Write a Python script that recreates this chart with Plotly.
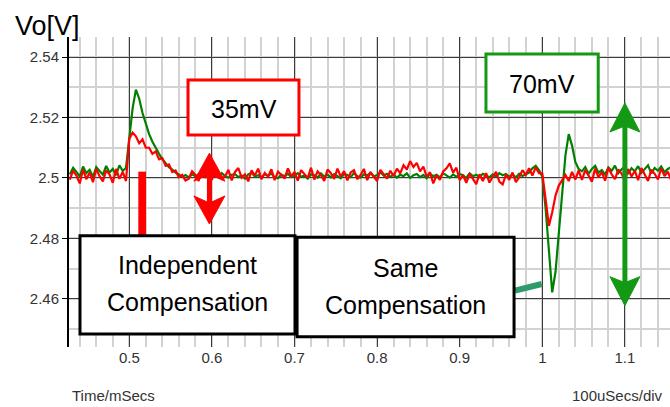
import plotly.graph_objects as go

# ---------------- data ----------------
time_start_ms = 0.428
sample_step_ms = 0.004

# Same compensation (green)
green_v = [
    2.5012, 2.5034, 2.5020, 2.5005, 2.5038, 2.5016, 2.5027, 2.5004, 2.5036, 2.5022,
    2.5011, 2.5040, 2.5018, 2.5030, 2.5009, 2.5042, 2.5024, 2.5033,
    2.5130, 2.5230, 2.5292, 2.5262, 2.5215, 2.5178, 2.5145, 2.5120, 2.5098, 2.5080,
    2.5062, 2.5050, 2.5036, 2.5028, 2.5018, 2.5012, 2.5004, 2.5010, 2.5002, 2.5012,
    2.5006,
    2.5012, 2.5004, 2.5009, 2.4999, 2.5014, 2.5010, 2.5002, 2.5016, 2.5006, 2.5001,
    2.5011, 2.5013, 2.5003, 2.5008, 2.4998, 2.5012, 2.5017, 2.5005, 2.5009, 2.5000,
    2.5013, 2.5007, 2.5015, 2.5002, 2.4999, 2.5011, 2.5006, 2.5014, 2.5003, 2.5010,
    2.5016, 2.5004, 2.5008, 2.4998, 2.5012, 2.5009, 2.5001, 2.5015, 2.5005, 2.5011,
    2.5002, 2.5013, 2.5007, 2.4999, 2.5014, 2.5010, 2.5003, 2.5016, 2.5006, 2.5001,
    2.5012, 2.5008, 2.5017, 2.5005, 2.5010, 2.5019, 2.5008, 2.5014, 2.5004, 2.5012,
    2.5001, 2.5011, 2.5006, 2.5015, 2.5000, 2.5009, 2.5013, 2.5003, 2.5010, 2.4999,
    2.5014, 2.5006, 2.5011, 2.5002, 2.5016, 2.5007, 2.5001, 2.5012, 2.5004, 2.5013,
    2.5009, 2.5000, 2.5015, 2.5006, 2.5011, 2.5003, 2.5014, 2.5008, 2.5002, 2.5012,
    2.5005, 2.5016, 2.5009, 2.5013, 2.5004, 2.5011, 2.5002, 2.5014, 2.5007, 2.5012,
    2.5018, 2.5032, 2.5040, 2.5026,
    2.5005, 2.4900, 2.4770, 2.4622, 2.4690, 2.4810, 2.4940, 2.5075, 2.5145, 2.5107,
    2.5053, 2.5030,
    2.5022, 2.5036, 2.5014, 2.5030, 2.5040, 2.5018, 2.5026, 2.5011, 2.5035, 2.5024,
    2.5041, 2.5016, 2.5029, 2.5037, 2.5013, 2.5032, 2.5022, 2.5039, 2.5017, 2.5028,
    2.5042, 2.5015, 2.5033, 2.5024, 2.5038, 2.5019, 2.5030, 2.5036,
]

# Independent compensation (red)
red_v = [
    2.4995, 2.5024, 2.5008, 2.4982, 2.5028, 2.4996, 2.5018, 2.4986, 2.5030, 2.5006,
    2.4989, 2.5025, 2.5012, 2.4984, 2.5030, 2.4997, 2.5020, 2.4990,
    2.5130, 2.5150, 2.5138, 2.5115, 2.5128, 2.5100, 2.5100, 2.5080, 2.5088, 2.5062,
    2.5066, 2.5040, 2.5045, 2.5020, 2.5025, 2.5002, 2.5010, 2.4992,
    2.4998, 2.5022, 2.5010, 2.4990, 2.5028, 2.5003, 2.5015, 2.4994, 2.5030, 2.5018,
    2.4997, 2.5006, 2.5027, 2.4992, 2.5020, 2.5033, 2.5001, 2.5012, 2.4989, 2.5025,
    2.5008, 2.5031, 2.4996, 2.5017, 2.5004, 2.5029, 2.4993, 2.5021, 2.5011, 2.4998,
    2.5032, 2.5006, 2.5019, 2.4991, 2.5026, 2.5014, 2.5000, 2.5034, 2.4995, 2.5022,
    2.5009, 2.4990, 2.5028, 2.5016, 2.4997, 2.5031, 2.5004, 2.5023, 2.4992, 2.5018,
    2.5026, 2.4996, 2.5010, 2.5030, 2.4993, 2.5019, 2.5005, 2.4990, 2.5027, 2.5012,
    2.4998, 2.5024, 2.5006, 2.5031, 2.5015, 2.5042, 2.5028, 2.5056, 2.5036, 2.5050,
    2.5022, 2.5038, 2.5004, 2.5019, 2.4982, 2.5008, 2.4994, 2.5022, 2.5032, 2.5048,
    2.5018, 2.5034, 2.4993, 2.5010, 2.4984, 2.5014, 2.4998, 2.4980, 2.5012, 2.4990,
    2.5016, 2.4985, 2.5004, 2.5020, 2.4988, 2.4979, 2.5011, 2.4994, 2.5018, 2.4986,
    2.5003, 2.5026, 2.5010, 2.5032, 2.5008, 2.5035, 2.5016,
    2.5015, 2.4930, 2.4842, 2.4887, 2.4942, 2.4975, 2.4995, 2.5010, 2.4990, 2.5020,
    2.4995, 2.5025,
    2.4994, 2.5026, 2.5008, 2.4988, 2.5031, 2.5002, 2.5020, 2.4991, 2.5034, 2.5012,
    2.4996, 2.5028, 2.5015, 2.4989, 2.5030, 2.5005, 2.5024, 2.4993, 2.5033, 2.5010,
    2.4990, 2.5027, 2.5014, 2.4995, 2.5032, 2.5006, 2.5021, 2.4992,
]

time_ms = [round(time_start_ms + i * sample_step_ms, 4) for i in range(len(green_v))]

x_tick_vals = [0.5, 0.6, 0.7, 0.8, 0.9, 1.0, 1.1]
x_tick_text = ["0.5", "0.6", "0.7", "0.8", "0.9", "1", "1.1"]
y_tick_vals = [2.46, 2.48, 2.50, 2.52, 2.54]
y_tick_text = ["2.46", "2.48", "2.5", "2.52", "2.54"]

# ---------------- geometry / style ----------------
W, H = 670, 407
ML, MR, MT, MB = 69, 0, 37, 60
x_range = [0.4270, 1.1546]
y_range = [2.44413, 2.54661]
kx = (W - ML - MR) / (x_range[1] - x_range[0])   # px per ms
ky = (H - MT - MB) / (y_range[1] - y_range[0])   # px per V

RED = "#ff0000"
GREEN_TRACE = "#008000"
GREEN_MARK = "#149914"
TEAL = "#2f9a6a"
TICK_FONT = "Liberation Sans Narrow, Arial Narrow, Liberation Sans, Arial, sans-serif"
TEXT_FONT = "Liberation Sans, Arial, sans-serif"

fig = go.Figure()
fig.add_trace(go.Scatter(x=time_ms, y=green_v, mode="lines",
                         line=dict(color=GREEN_TRACE, width=2.2), name="Same", showlegend=False))
fig.add_trace(go.Scatter(x=time_ms, y=red_v, mode="lines",
                         line=dict(color=RED, width=2.2), name="Independent", showlegend=False))

shapes = []
annotations = []

def rect(x0, x1, y0, y1, line_color, fill="white", lw=3):
    shapes.append(dict(type="rect", xref="x", yref="y", x0=x0, x1=x1, y0=y0, y1=y1,
                       line=dict(color=line_color, width=lw), fillcolor=fill, layer="above"))

def double_arrow(xc, y_bot, y_top, color, head_w=30, head_l=28, notch=6, shaft=5):
    hw = head_w / 2 / kx
    hl = head_l / ky
    nl = (head_l - notch) / ky
    shapes.append(dict(type="line", xref="x", yref="y", x0=xc, x1=xc,
                       y0=y_bot + nl, y1=y_top - nl, line=dict(color=color, width=shaft), layer="above"))
    top = (f"M {xc},{y_top} L {xc + hw},{y_top - hl} L {xc},{y_top - nl} "
           f"L {xc - hw},{y_top - hl} Z")
    bot = (f"M {xc},{y_bot} L {xc + hw},{y_bot + hl} L {xc},{y_bot + nl} "
           f"L {xc - hw},{y_bot + hl} Z")
    for p in (top, bot):
        shapes.append(dict(type="path", xref="x", yref="y", path=p, fillcolor=color,
                           line=dict(color=color, width=1), layer="above"))

def label(x, y, text, size=25, color="black", font=TEXT_FONT, xref="x", yref="y",
          xanchor="center"):
    annotations.append(dict(x=x, y=y, xref=xref, yref=yref, text=text, showarrow=False,
                            xanchor=xanchor, yanchor="middle",
                            font=dict(family=font, size=size, color=color)))

# red marker bar under the independent-compensation box
shapes.append(dict(type="rect", xref="x", yref="y", x0=0.5109, x1=0.5202, y0=2.4800, y1=2.5021,
                   line=dict(width=0), fillcolor=RED, layer="above"))
# connector from the "Same Compensation" box to the dip
shapes.append(dict(type="line", xref="x", yref="y", x0=0.9669, y0=2.46274, x1=0.9993, y1=2.46496,
                   line=dict(color=TEAL, width=6), layer="above"))

# arrows
double_arrow(0.597, 2.4848, 2.5082, RED, head_w=31, head_l=28, notch=7)
double_arrow(1.100, 2.4578, 2.5248, GREEN_MARK, head_w=30, head_l=29, notch=6)

# boxes
rect(0.5711, 0.7054, 2.5142, 2.5324, RED)
rect(0.9318, 1.0677, 2.5218, 2.5410, GREEN_MARK)
rect(0.4403, 0.7006, 2.4484, 2.4809, "black")
rect(0.7031, 0.9658, 2.4475, 2.4804, "black")

label(0.6383, 2.5228, "35mV")
label(0.9996, 2.5310, "70mV")
label(0.5705, 2.4712, "Independent")
label(0.5705, 2.4591, "Compensation")
label(0.8344, 2.4701, "Same")
label(0.8344, 2.4580, "Compensation")

# outer texts (paper coords)
def px_to_paper(px, py):
    return (px - ML) / (W - ML - MR), (H - MB - py) / (H - MT - MB)

vx, vy = px_to_paper(47, 26)
label(vx, vy, "Vo[V]", size=27, xref="paper", yref="paper")
tx, ty = px_to_paper(70, 396)
label(tx, ty, "Time/mSecs", size=15, color="#333333", font=TICK_FONT, xref="paper", yref="paper",
      xanchor="left")
dx_, dy_ = px_to_paper(665, 396)
annotations.append(dict(x=dx_, y=dy_, xref="paper", yref="paper", text="100uSecs/div",
                        showarrow=False, xanchor="right", yanchor="middle",
                        font=dict(family=TICK_FONT, size=15, color="#333333")))

fig.update_layout(
    width=W, height=H,
    margin=dict(l=ML, r=MR, t=MT, b=MB, pad=0),
    paper_bgcolor="white", plot_bgcolor="white",
    shapes=shapes, annotations=annotations,
    showlegend=False,
    xaxis=dict(range=x_range, tickmode="array", tickvals=x_tick_vals, ticktext=x_tick_text,
               showgrid=True, gridcolor="#3c3c3c", gridwidth=1, zeroline=False,
               showline=False, ticks="", ticklen=0,
               tickfont=dict(family=TICK_FONT, size=15, color="#333333"),
               minor=dict(tick0=0.5, dtick=0.02, showgrid=True, gridcolor="#d2d2d2", gridwidth=2)),
    yaxis=dict(range=y_range, tickmode="array", tickvals=y_tick_vals, ticktext=y_tick_text,
               showgrid=True, gridcolor="#3c3c3c", gridwidth=1, zeroline=False,
               showline=True, linecolor="black", linewidth=2,
               ticks="outside", ticklen=5, tickcolor="black", tickwidth=1,
               tickfont=dict(family=TICK_FONT, size=15, color="#333333"),
               minor=dict(tick0=2.46, dtick=0.01, showgrid=True, gridcolor="#d2d2d2", gridwidth=2)),
)

fig.write_html("out.html")
